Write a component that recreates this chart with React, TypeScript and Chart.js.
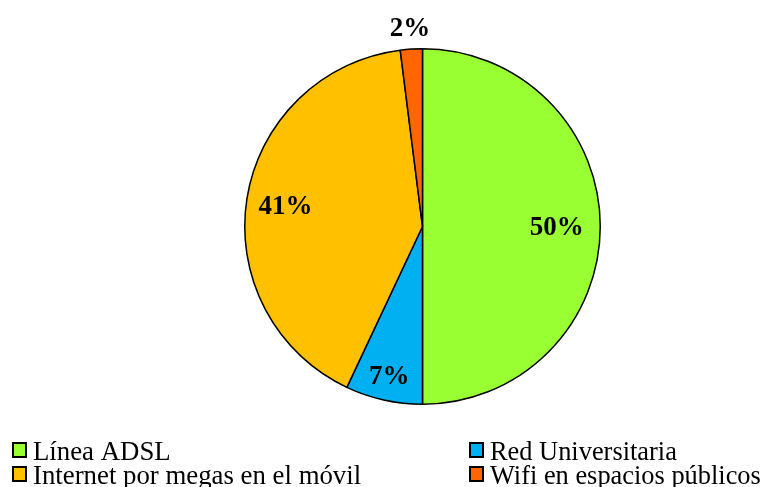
import React, { useEffect, useRef } from "react";
import { Chart, registerables } from "chart.js";

Chart.register(...registerables);

const categories = ["Línea ADSL", "Red Universitaria", "Internet por megas en el móvil", "Wifi en espacios públicos"];
const values = [50, 7, 41, 2];
const valueLabels = ["50%", "7%", "41%", "2%"];
const colors = ["#99FF33", "#00B0F0", "#FFC000", "#FF6600"];
const labelRadius = [0.755, 0.856, 0.78, 1.125];

const W = 763;
const H = 487;

const labelPlugin = {
  id: "sliceLabels",
  afterDatasetsDraw(chart: any) {
    const ctx = chart.ctx;
    const meta = chart.getDatasetMeta(0);
    ctx.save();
    ctx.font = "bold 27px 'Liberation Serif'";
    ctx.fillStyle = "#000";
    ctx.textAlign = "center";
    ctx.textBaseline = "middle";
    meta.data.forEach((arc: any, i: number) => {
      const p = arc.getProps(["x", "y", "startAngle", "endAngle", "outerRadius"], true);
      const a = (p.startAngle + p.endAngle) / 2;
      const r = p.outerRadius * labelRadius[i];
      ctx.fillText(valueLabels[i], p.x + Math.cos(a) * r, p.y + Math.sin(a) * r + 2);
    });
    ctx.restore();
  },
};

const legendPlugin = {
  id: "customLegend",
  afterDraw(chart: any) {
    const ctx = chart.ctx;
    const colX = [13, 470];
    const rowY = [443, 467];
    ctx.save();
    ctx.textBaseline = "alphabetic";
    ctx.textAlign = "left";
    categories.forEach((c, i) => {
      const col = i % 2;
      const row = Math.floor(i / 2);
      const x = colX[col];
      const y = rowY[row];
      ctx.fillStyle = colors[i];
      ctx.fillRect(x, y, 13, 14);
      ctx.lineWidth = 2;
      ctx.strokeStyle = "#000";
      ctx.strokeRect(x, y, 13, 14);
      ctx.fillStyle = "#000";
      ctx.font = col === 0 ? "26.8px 'Liberation Serif'" : "26.4px 'Liberation Serif'";
      ctx.fillText(c, x + 20, y + 17);
    });
    ctx.restore();
  },
};

export default function App() {
  const ref = useRef<HTMLCanvasElement>(null);
  useEffect(() => {
    if (!ref.current) return;
    const chart = new Chart(ref.current, {
      type: "pie",
      data: {
        labels: categories,
        datasets: [
          {
            data: values,
            backgroundColor: colors,
            borderColor: "#000",
            borderWidth: 1.5,
          },
        ],
      },
      options: {
        responsive: false,
        animation: false,
        layout: { padding: { left: 244, right: 162, top: 48, bottom: 82 } },
        plugins: {
          legend: { display: false },
          tooltip: { enabled: false },
        },
      },
      plugins: [labelPlugin, legendPlugin],
    });
    return () => chart.destroy();
  }, []);
  return (
    <div style={{ position: "fixed", left: 0, top: 0, width: W, height: H, background: "#fff" }}>
      <canvas ref={ref} width={W} height={H} />
    </div>
  );
}
